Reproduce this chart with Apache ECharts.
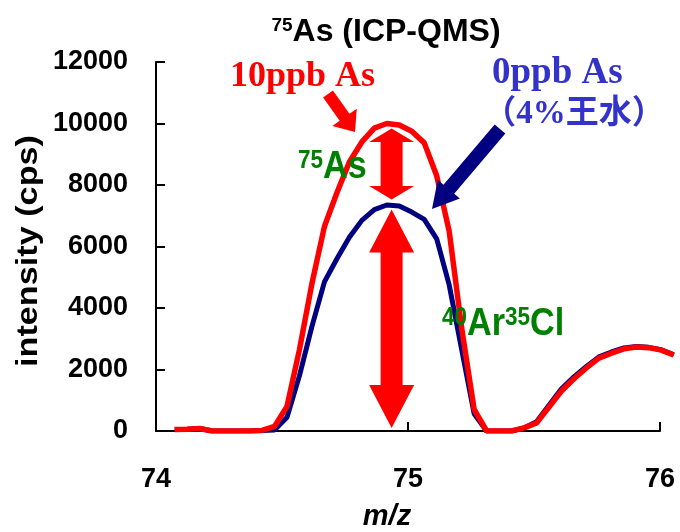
<!DOCTYPE html>
<html><head><meta charset="utf-8">
<script src="https://cdn.jsdelivr.net/npm/echarts@6/dist/echarts.min.js"></script>
<style>html,body{margin:0;padding:0;background:#fff}#c{width:680px;height:532px}</style>
</head><body><div id="c"></div>
<script>
// m/z sampling positions
const mz = [74.075, 74.125, 74.175, 74.225, 74.275, 74.325, 74.375, 74.425, 74.475, 74.525,
            74.575, 74.625, 74.675, 74.725, 74.775, 74.825, 74.875, 74.925, 74.975, 75.025,
            75.075, 75.125, 75.175, 75.225, 75.275, 75.325, 75.375, 75.425, 75.475, 75.525,
            75.575, 75.625, 75.675, 75.725, 75.775, 75.825, 75.875, 75.925, 75.975, 76.025, 76.075];
// 10 ppb As (red)
const as10ppb = [50, 60, 80, 0, 0, 0, 0, 20, 150, 800,
                 2650, 4800, 6650, 7750, 8750, 9400, 9850, 10000, 9950, 9750,
                 9370, 8300, 6500, 3350, 700, 0, 0, 0, 100, 260,
                 780, 1300, 1700, 2050, 2370, 2530, 2670, 2730, 2710, 2630, 2470];
// 0 ppb As, 4% aqua regia (navy)
const as0ppb = [50, 60, 80, 0, 0, 0, 0, 20, 30, 450,
                1800, 3400, 4850, 5600, 6300, 6850, 7200, 7350, 7320, 7120,
                6880, 6250, 4750, 2650, 560, 0, 0, 0, 100, 300,
                840, 1370, 1760, 2100, 2410, 2570, 2700, 2750, 2720, 2640, 2480];
const xTicks = [74, 75, 76];
const yTicks = [0, 2000, 4000, 6000, 8000, 10000, 12000];
const xDataMax = 76.1;      // plotting range continues past the last labelled tick
const arrowMz = 74.935;

const SANS = '"Liberation Sans", Arial, sans-serif';
const SERIF = '"Liberation Serif", "Times New Roman", "Noto Sans CJK JP", serif';

const chart = echarts.init(document.getElementById('c'), null, {renderer: 'canvas'});
const pair = (xs, ys) => xs.map((x, i) => [x, ys[i]]);

const gL = 156, gR = 20, gT = 62, gB = 101, W = 680;
const axW = W - gL - gR;
const xMin = xTicks[0], xMax = xTicks[xTicks.length - 1];
const dataW = axW * (xDataMax - xMin) / (xMax - xMin);

chart.setOption({
  animation: false,
  backgroundColor: '#fff',
  grid: [
    {left: gL, right: gR, top: gT, bottom: gB, containLabel: false},
    {left: gL, width: dataW, top: gT, bottom: gB, containLabel: false}
  ],
  xAxis: [{
    gridIndex: 0, type: 'value', min: xMin, max: xMax, interval: 1,
    axisLine: {lineStyle: {color: '#000', width: 2}},
    axisTick: {inside: true, length: 9, lineStyle: {color: '#000', width: 2}},
    axisLabel: {color: '#000', fontFamily: SANS, fontWeight: 'bold', fontSize: 27, margin: 35},
    splitLine: {show: false}
  }, {
    gridIndex: 1, type: 'value', min: xMin, max: xDataMax, show: false, splitLine: {show: false}
  }],
  yAxis: [{
    gridIndex: 0, type: 'value', min: yTicks[0], max: yTicks[yTicks.length - 1], interval: 2000,
    axisLine: {show: true, lineStyle: {color: '#000', width: 2}},
    axisTick: {show: true, inside: true, length: 9, lineStyle: {color: '#000', width: 2}},
    axisLabel: {color: '#000', fontFamily: SANS, fontWeight: 'bold', fontSize: 27, margin: 28,
                formatter: v => String(v)},
    splitLine: {show: false}
  }, {
    gridIndex: 1, type: 'value', min: yTicks[0], max: yTicks[yTicks.length - 1], show: false, splitLine: {show: false}
  }],
  series: [
    {type: 'line', name: '0ppb As', xAxisIndex: 1, yAxisIndex: 1, data: pair(mz, as0ppb), symbol: 'none',
     lineStyle: {color: '#000080', width: 5}, z: 2},
    {type: 'line', name: '10ppb As', xAxisIndex: 1, yAxisIndex: 1, data: pair(mz, as10ppb), symbol: 'none',
     lineStyle: {color: '#ff0000', width: 5.5}, z: 3}
  ]
});

function arrowPts(x1, y1, x2, y2, sw, hw, hl) {
  const dx = x2 - x1, dy = y2 - y1, L = Math.hypot(dx, dy);
  const ux = dx / L, uy = dy / L, nx = -uy, ny = ux;
  const bx = x2 - ux * hl, by = y2 - uy * hl;
  return [[x1 + nx * sw / 2, y1 + ny * sw / 2], [bx + nx * sw / 2, by + ny * sw / 2],
          [bx + nx * hw / 2, by + ny * hw / 2], [x2, y2],
          [bx - nx * hw / 2, by - ny * hw / 2], [bx - nx * sw / 2, by - ny * sw / 2],
          [x1 - nx * sw / 2, y1 - ny * sw / 2]];
}
function dblArrowPts(x, yT, yB, sw, hw, hT, hB) {
  return [[x, yT], [x + hw / 2, yT + hT], [x + sw / 2, yT + hT], [x + sw / 2, yB - hB],
          [x + hw / 2, yB - hB], [x, yB], [x - hw / 2, yB - hB], [x - sw / 2, yB - hB],
          [x - sw / 2, yT + hT], [x - hw / 2, yT + hT]];
}

const toPx = (x, y) => chart.convertToPixel({gridIndex: 0}, [x, y]);
const redTop = toPx(arrowMz, Math.max(...as10ppb));
const blueTop = toPx(arrowMz, Math.max(...as0ppb));
const base = toPx(arrowMz, 0);
const ax = redTop[0];

const green = '#008000';
function supText(x, y, text, fs, sfs, color, sx) {
  return {
    type: 'text', x: x, y: y, scaleX: sx || 1, z: 10,
    style: {
      text: text, align: 'left', verticalAlign: 'bottom', fill: color,
      rich: {
        s: {fontFamily: SANS, fontWeight: 'bold', fontSize: sfs, lineHeight: sfs, verticalAlign: 'top', fill: color},
        b: {fontFamily: SANS, fontWeight: 'bold', fontSize: fs, lineHeight: fs, verticalAlign: 'bottom', fill: color}
      }
    }
  };
}

chart.setOption({
  graphic: [
    // title
    {type: 'text', x: 386, y: 32, z: 10,
     style: {text: '{s|75}{b|As (ICP-QMS)}', align: 'center', verticalAlign: 'middle', fill: '#000',
       rich: {s: {fontFamily: SANS, fontWeight: 'bold', fontSize: 19, lineHeight: 19, verticalAlign: 'top', fill: '#000'},
              b: {fontFamily: SANS, fontWeight: 'bold', fontSize: 32, lineHeight: 32, verticalAlign: 'bottom', fill: '#000'}}}},
    // y axis title
    {type: 'text', x: 29, y: 251, rotation: Math.PI / 2, scaleX: 1.18, z: 10,
     style: {text: 'intensity (cps)', font: 'bold 29px ' + SANS, fill: '#000', align: 'center', verticalAlign: 'middle'}},
    // x axis title
    {type: 'text', x: 387, y: 517, z: 10,
     style: {text: 'm/z', font: 'italic bold 29px ' + SANS, fill: '#000', align: 'center', verticalAlign: 'middle'}},
    // sample labels
    {type: 'text', x: 230, y: 77, z: 10,
     style: {text: '10ppb As', font: 'bold 36px ' + SERIF, fill: '#ff0000', align: 'left', verticalAlign: 'middle'}},
    {type: 'text', x: 492, y: 73, z: 10,
     style: {text: '0ppb As', font: 'bold 37px ' + SERIF, fill: '#3333cc', align: 'left', verticalAlign: 'middle'}},
    {type: 'text', x: 574, y: 114, z: 10,
     style: {text: '（4%王水）', font: 'bold 33px ' + SERIF, fill: '#3333cc', align: 'center', verticalAlign: 'middle'}},
    // pointer arrows
    {type: 'polygon', z: 9, shape: {points: arrowPts(328, 94, 355, 132, 12, 30, 18)}, style: {fill: '#ff0000'}},
    {type: 'polygon', z: 9, shape: {points: arrowPts(500, 129, 432, 209, 14, 29, 26)}, style: {fill: '#000080'}},
    // double arrows between peaks / baseline
    {type: 'polygon', z: 9, shape: {points: dblArrowPts(ax, redTop[1] + 5, blueTop[1] - 5.5, 22, 45, 13.5, 13.5)}, style: {fill: '#ff0000'}},
    {type: 'polygon', z: 9, shape: {points: dblArrowPts(ax, blueTop[1] + 4.5, base[1] - 3, 22, 45, 43, 43)}, style: {fill: '#ff0000'}},
    // green species labels
    supText(298, 187, '{s|75}{b|As}', 38, 25, green, 0.9),
    supText(442, 344, '{s|40}{b|Ar}{s|35}{b|Cl}', 38, 25, green, 0.9)
  ]
});
</script>
</body></html>
